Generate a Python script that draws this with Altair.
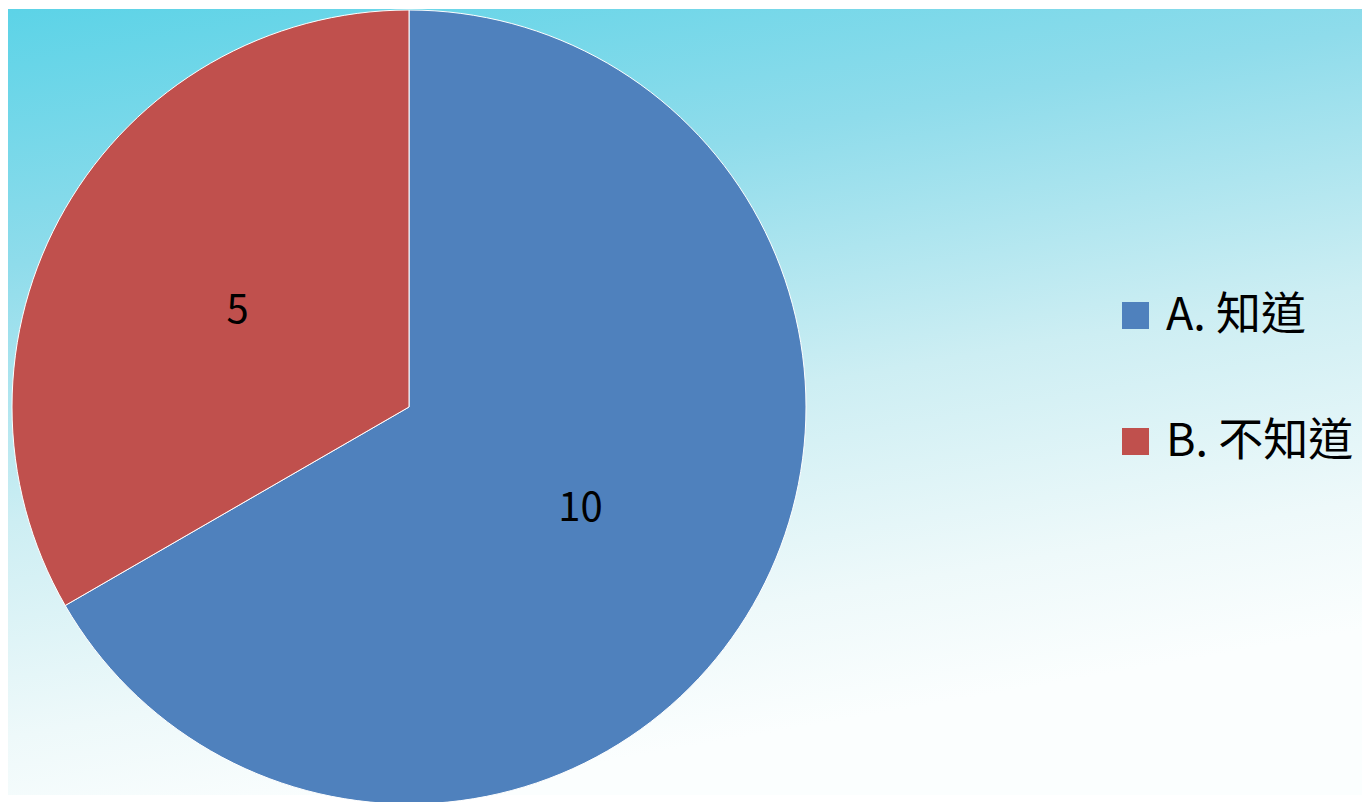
import altair as alt
import pandas as pd

categories = ["A. 知道", "B. 不知道"]
counts = [10, 5]
colors = ["#4f81bd", "#c0504d"]

df = pd.DataFrame({"category": categories, "count": counts, "order": [0, 1]})
bg_df = pd.DataFrame({"k": [0]})

W, H = 1354, 786
CX, CY, R = 401, 398, 397
FONT = "Noto Sans CJK TC"

background = alt.Chart(bg_df).mark_rect(
    fill={
        "gradient": "linear",
        "x1": 0, "y1": 0, "x2": 0.3, "y2": 1,
        "stops": [
            {"offset": 0, "color": "#5cd3e7"},
            {"offset": 0.3, "color": "#8fdceb"},
            {"offset": 0.6, "color": "#cdeef3"},
            {"offset": 0.85, "color": "#eef9fa"},
            {"offset": 1, "color": "#fbfefe"},
        ],
    }
).encode(
    x=alt.value(0), x2=alt.value("width"), y=alt.value(0), y2=alt.value("height")
)

base = alt.Chart(df).encode(
    theta=alt.Theta("count:Q", stack=True),
    order=alt.Order("order:Q"),
)

pie = base.mark_arc(outerRadius=R, stroke="white", strokeWidth=1).encode(
    x=alt.value(CX),
    y=alt.value(CY),
    color=alt.Color(
        "category:N",
        scale=alt.Scale(domain=categories, range=colors),
        title=None,
        legend=alt.Legend(
            orient="none",
            legendX=1105,
            legendY=284,
            symbolType="square",
            symbolSize=729,
            symbolStrokeWidth=0,
            labelFontSize=45,
            labelFont=FONT,
            labelColor="black",
            labelOffset=8,
            labelLimit=400,
            rowPadding=80,
            padding=0,
        ),
    ),
)

labels = base.mark_text(radius=198, fontSize=40, dy=3, font=FONT, color="black").encode(
    x=alt.value(CX),
    y=alt.value(CY),
    text=alt.Text("count:Q"),
)

chart = alt.layer(background, pie, labels).properties(
    width=W, height=H, padding=0
).configure_view(stroke=None)

chart.save("out.html", embed_options={"renderer": "svg", "actions": False})
